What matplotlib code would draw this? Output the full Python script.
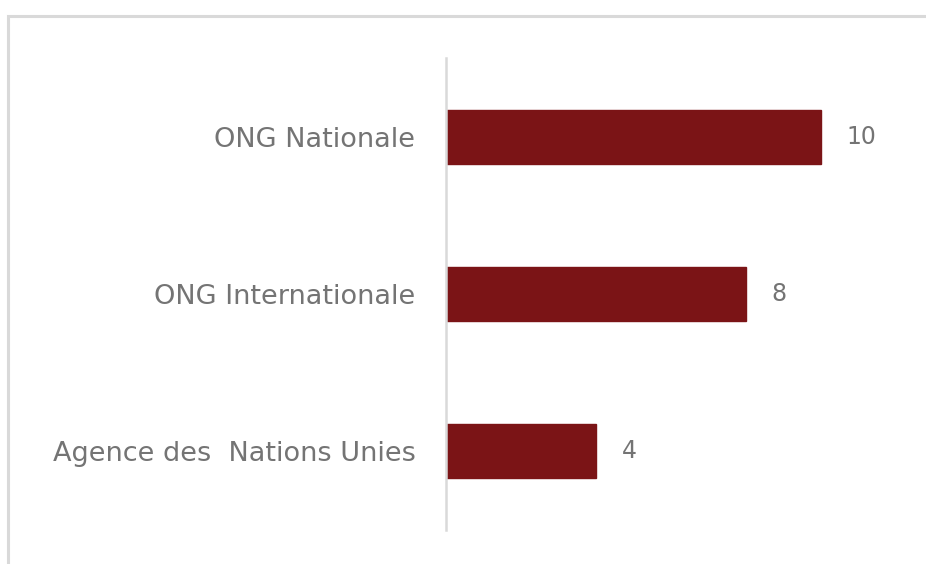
import matplotlib
matplotlib.use("Agg")
import matplotlib.pyplot as plt
from matplotlib.patches import Rectangle

categories = ["ONG Nationale", "ONG Internationale", "Agence des  Nations Unies"]
values = [10, 8, 4]

W, H = 926, 564
fig = plt.figure(figsize=(W / 100, H / 100), dpi=100)
fig.patch.set_facecolor("white")

# outer chart frame
fig.patches.append(Rectangle((8 / W, -0.05), 1.2, (H - 16) / H + 0.05,
                             transform=fig.transFigure, fill=False,
                             edgecolor="#D9D9D9", linewidth=2.2))

ax = fig.add_axes([446 / W, (H - 530) / H, 450 / W, 472 / H])
ypos = list(range(len(categories)))
ax.barh(ypos, values, height=0.345, color="#7B1416", edgecolor="#7B1416")
ax.set_ylim(len(categories) - 0.5, -0.5)
ax.set_xlim(0, 12)

font = ["DejaVu Sans"]
ax.set_yticks(ypos)
ax.set_yticklabels(categories, fontsize=19.5, color="#747474", family=font)
ax.tick_params(axis="y", length=0, pad=22)
ax.set_xticks([])

for y, v in zip(ypos, values):
    ax.text(v + 0.68, y, str(v), va="center", ha="left", fontsize=17,
            color="#747474", family=font)

for s in ["top", "right", "bottom"]:
    ax.spines[s].set_visible(False)
ax.spines["left"].set_color("#D9D9D9")
ax.spines["left"].set_linewidth(1.8)

fig.savefig("out.png", dpi=100, facecolor="white")
